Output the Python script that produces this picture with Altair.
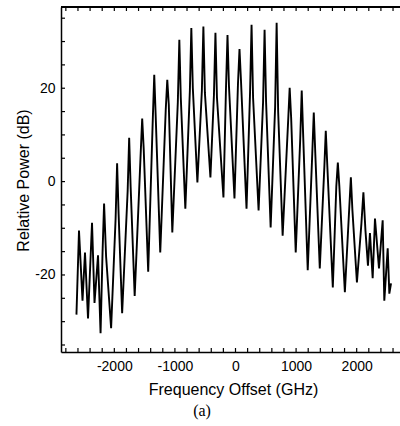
import altair as alt
import pandas as pd

# Spectrum trace: frequency offset (GHz) and relative power (dB)
freq_ghz = [
    -2625, -2583, -2525, -2484, -2434, -2368, -2327, -2269, -2227, -2194,
    -2169, -2136, -2053, -1979, -1954, -1929, -1871, -1780, -1755, -1731,
    -1664, -1565, -1540, -1515, -1441, -1366, -1341, -1317, -1242, -1151,
    -1126, -1101, -1043, -952, -927, -903, -828, -753, -729, -704,
    -629, -555, -530, -505, -414, -356, -331, -306, -199, -157,
    -132, -108, -17, 41, 66, 91, 182, 240, 265, 290,
    381, 455, 480, 505, 580, 654, 679, 704, 778, 869,
    894, 919, 994, 1068, 1093, 1118, 1192, 1267, 1292, 1317,
    1391, 1466, 1490, 1515, 1606, 1664, 1689, 1714, 1805, 1880,
    1904, 1929, 2004, 2078, 2111, 2145, 2186, 2219, 2264, 2302,
    2368, 2429, 2456, 2512, 2539, 2567,
]
power_db = [
    -28.5, -10.5, -25.5, -15.2, -29.3, -8.8, -26.0, -15.8, -32.5, -15.0,
    -4.7, -16.0, -31.4, -8.0, 3.9, -7.0, -28.2, -2.0, 9.4, -1.0,
    -24.5, 6.0, 13.5, 7.0, -19.3, 13.0, 22.9, 14.0, -15.2, 15.5,
    21.8, 16.5, -10.9, 17.0, 30.4, 18.0, -5.8, 19.5, 32.9, 20.0,
    -0.2, 19.5, 33.2, 19.0, 0.9, 18.5, 31.9, 18.0, -3.4, 20.0,
    31.4, 20.5, -3.6, 21.0, 28.4, 21.5, -5.8, 19.0, 33.6, 18.0,
    -6.2, 17.0, 32.5, 17.0, -9.8, 16.0, 34.0, 15.0, -11.6, 13.0,
    20.1, 13.5, -15.2, 9.0, 19.5, 9.5, -19.0, 6.0, 14.8, 6.0,
    -18.6, 3.0, 10.9, 3.5, -22.7, -1.0, 4.1, -1.0, -23.7, -5.0,
    0.9, -6.0, -21.6, -9.0, -2.3, -10.5, -18.0, -11.0, -20.7, -7.9,
    -18.6, -8.3, -25.5, -14.3, -24.0, -21.8,
]

x_label_values = [-2000, -1000, 0, 1000, 2000]
y_label_values = [-20, 0, 20]
x_tick_values = [-2800, -2600, -2400, -2200, -2000, -1800, -1600, -1400, -1200,
                 -1000, -800, -600, -400, -200, 0, 200, 400, 600, 800, 1000,
                 1200, 1400, 1600, 1800, 2000, 2200, 2400, 2600]
y_tick_values = [-35, -30, -25, -20, -15, -10, -5, 0, 5, 10, 15, 20, 25, 30, 35]

X_DOMAIN = [-2880, 2715]
Y_DOMAIN = [-36.5, 37.4]
W, H = 339, 345

trace = pd.DataFrame({"f": freq_ghz, "p": power_db})
xt = pd.DataFrame({"f": x_tick_values})
yt = pd.DataFrame({"p": y_tick_values})

xscale = alt.Scale(domain=X_DOMAIN, nice=False, zero=False)
yscale = alt.Scale(domain=Y_DOMAIN, nice=False, zero=False)

x_axis = alt.Axis(
    values=x_label_values, title="Frequency Offset (GHz)", tickSize=0, ticks=False,
    labelPadding=7, labelFontSize=14, labelFont="Liberation Sans", labelColor="black",
    labelExpr="'' + datum.value",
    titleFont="Liberation Sans", titleFontSize=16, titleFontWeight="normal", titleColor="black",
    titleX=172, titleY=42, titleBaseline="alphabetic", titleAlign="center",
    domainColor="black", domainWidth=1.5, grid=False, labelFlush=False,
)
y_axis = alt.Axis(
    values=y_label_values, title="Relative Power (dB)", tickSize=0, ticks=False,
    labelPadding=6, labelFontSize=14, labelFont="Liberation Sans", labelColor="black",
    labelExpr="'' + datum.value",
    titleFont="Liberation Sans", titleFontSize=16, titleFontWeight="normal", titleColor="black",
    titleX=-33, titleY=173, titleAngle=-90, titleBaseline="alphabetic", titleAlign="center",
    domainColor="black", domainWidth=1.5, grid=False, labelFlush=False,
)

X = alt.X("f:Q", scale=xscale, axis=x_axis)
Y = alt.Y("p:Q", scale=yscale, axis=y_axis)

line = alt.Chart(trace).mark_line(color="black", strokeWidth=1.9).encode(
    x=X, y=Y, order=alt.Order("f:Q"),
)

y_ticks = alt.Chart(yt).mark_rule(color="black", strokeWidth=1.2).encode(
    y=Y, x=alt.value(0), x2=alt.value(4),
)
x_ticks_bottom = alt.Chart(xt).mark_rule(color="black", strokeWidth=1.2).encode(
    x=X, y=alt.value(H), y2=alt.value(H - 4),
)
x_ticks_top = alt.Chart(xt).mark_rule(color="black", strokeWidth=1.2).encode(
    x=X, y=alt.value(0), y2=alt.value(4),
)
top_line = alt.Chart(xt).mark_rule(color="black", strokeWidth=1.5).encode(
    x=alt.value(0), x2=alt.value(W), y=alt.value(0),
)
caption = alt.Chart(pd.DataFrame({"t": ["(a)"]})).mark_text(
    font="Liberation Serif", fontSize=16, color="black", align="center", baseline="alphabetic"
).encode(text="t:N", x=alt.value(141), y=alt.value(409))

chart = alt.layer(line, y_ticks, x_ticks_bottom, x_ticks_top, top_line, caption).properties(
    width=W, height=H,
    autosize=alt.AutoSizeParams(type="none"),
    padding={"left": 61, "top": 7, "right": 0, "bottom": 74},
    background="white",
).configure_view(stroke=None)

chart.save("out.html", embed_options={"renderer": "svg", "actions": False})
